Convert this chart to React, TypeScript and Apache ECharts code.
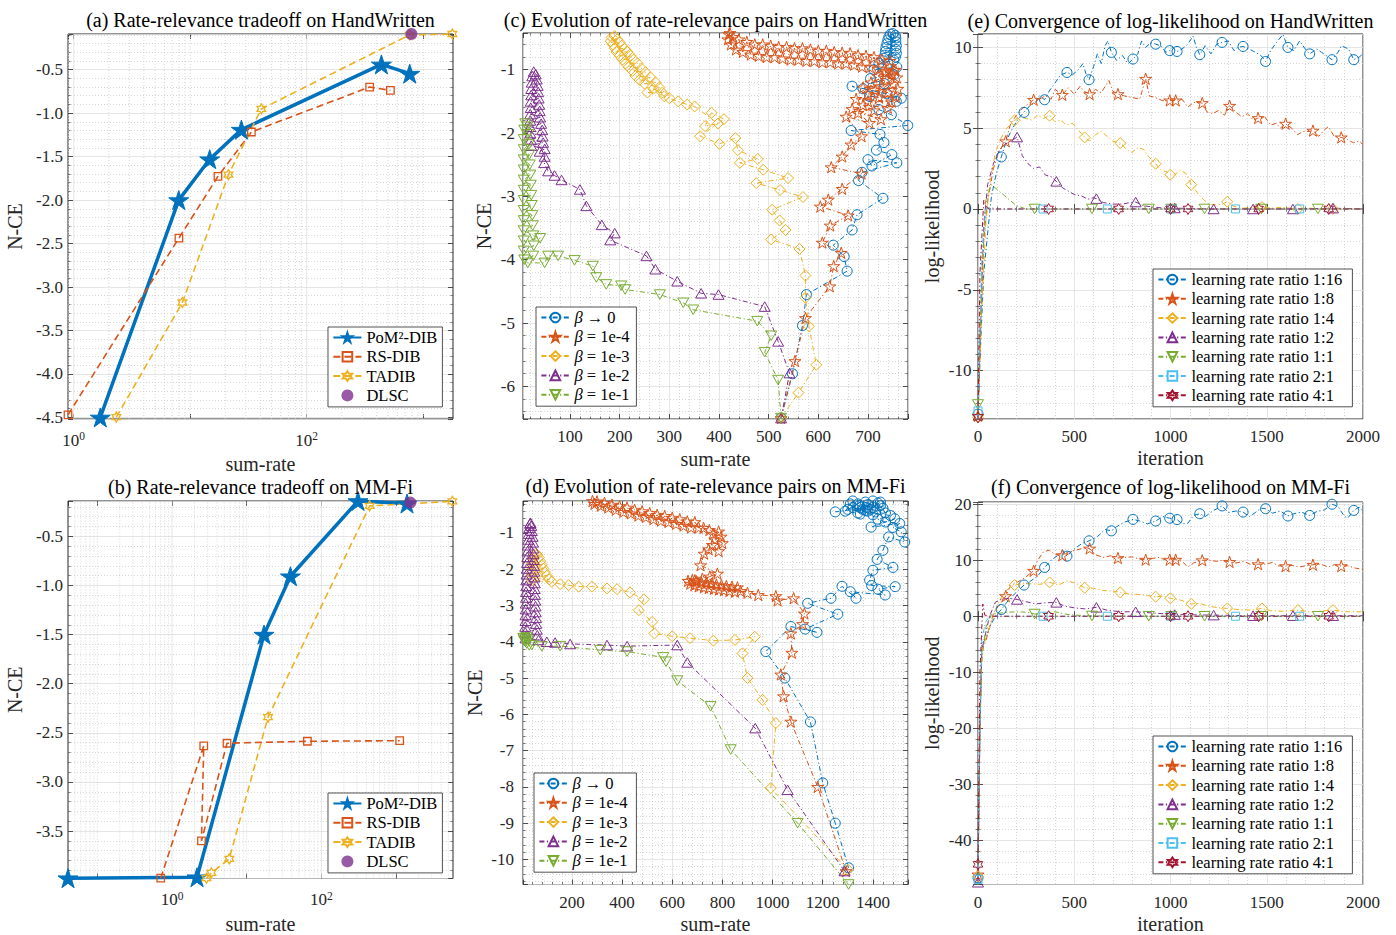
import { useEffect, useRef } from "react";
import * as echarts from "echarts";

const FONT = '"Liberation Serif", "Times New Roman", serif';
const AX = "#262626";
const MAJOR = "#dedede";
const MINOR = "#cdcdcd";
const BLUE = "#0072BD", ORANGE = "#D95319", YELLOW = "#EDB120", PURPLE = "#7E2F8E";
const GREEN = "#77AC30", CYAN = "#4DBEEE", DRED = "#A2142F";

const PENTAGRAM = "path://M50,0L61.2,34.5L97.6,34.5L68.2,55.9L79.4,90.5L50,69.1L20.6,90.5L31.8,55.9L2.4,34.5L38.8,34.5Z";
const HEXAGRAM = "path://M50,0L64.4,25L93.3,25L78.9,50L93.3,75L64.4,75L50,100L35.6,75L6.7,75L21.1,50L6.7,25L35.6,25Z";
const TRI_UP = "path://M50,0L100,86.6L0,86.6Z";
const TRI_DOWN = "path://M0,0L100,0L50,86.6Z";
const DASHDOT = [5, 2.5, 1.2, 2.5];
const DASHED = [7, 4];

// ---------------- (a) HandWritten tradeoff ----------------
const A_POM = [[1.69, -4.5], [7.97, -2.0], [14.7, -1.53], [27.5, -1.19], [438, -0.44], [766, -0.546]];
const A_RS = [[0.893, -4.47], [8.0, -2.437], [17.3, -1.728], [33.5, -1.217], [347, -0.7], [523, -0.738]];
const A_TA = [[2.32, -4.497], [8.57, -3.178], [21.3, -1.708], [40.8, -0.952], [766, -0.1], [1780, -0.09]];
const A_DL = [[792, -0.09]];

// ---------------- (b) MM-Fi tradeoff ----------------
const B_POM = [[0.0405, -3.98], [2.16, -3.97], [17.05, -1.5], [38.5, -0.906], [309, -0.14], [1400, -0.166]];
const B_RS = [[0.706, -3.98], [2.66, -2.633], [2.48, -3.6], [5.45, -2.606], [65, -2.586], [1117, -2.58]];
const B_TA = [[2.89, -3.98], [3.36, -3.926], [5.84, -3.783], [19.3, -2.34], [443, -0.19], [5670, -0.143]];
const B_DL = [[1552, -0.156]];

// ---------------- (c) HandWritten evolution ----------------
const C_B0 = [[525,-6.5],[548,-5.8],[568,-5.04],[576,-4.55],[658,-4.18],[652,-3.95],[630,-3.77],[668,-3.53],[678,-3.29],[730,-3.03],[681,-2.75],[688,-2.62],[758,-2.47],[700,-2.42],[708,-2.52],[748,-2.34],[717,-2.27],[732,-2.15],[724,-2.02],[666,-1.96],[780,-1.88],[747,-1.71],[722,-1.63],[757,-1.5],[767,-1.45],[703,-1.42],[668,-1.26],[738,-1.38],[690,-1.3],[733,-1.22],[705,-1.14],[752,-1.08],[712,-1.0],[758,-0.96],[722,-0.9],[752,-0.85],[732,-0.82],[755,-0.8],[734,-0.77],[757,-0.74],[735,-0.71],[756,-0.68],[736,-0.65],[757,-0.62],[738,-0.59],[756,-0.56],[740,-0.53],[756,-0.5],[742,-0.48],[755,-0.46],[745,-0.44],[750,-0.43]];
const C_B4 = [[525,-6.5],[553,-5.6],[574,-4.92],[623,-4.42],[631,-4.1],[646,-3.89],[608,-3.73],[624,-3.46],[660,-3.3],[604,-3.16],[620,-3.05],[648,-2.88],[687,-2.64],[626,-2.54],[648,-2.37],[666,-2.18],[687,-2.05],[656,-1.74],[703,-1.84],[680,-1.68],[726,-1.78],[668,-1.62],[712,-1.64],[690,-1.56],[740,-1.6],[700,-1.5],[748,-1.5],[676,-1.46],[722,-1.44],[756,-1.42],[700,-1.38],[740,-1.36],[714,-1.32],[760,-1.3],[690,-1.28],[728,-1.26],[750,-1.22],[706,-1.2],[738,-1.16],[758,-1.12],[720,-1.1],[748,-1.06],[735,-1.02],[755,-1.0],[752,-1.0],[744,-0.86],[736,-1.04],[728,-0.84],[720,-0.98],[712,-0.8],[704,-0.96],[696,-0.78],[688,-0.95],[680,-0.77],[672,-0.92],[664,-0.74],[656,-0.9],[648,-0.73],[640,-0.9],[632,-0.72],[624,-0.88],[616,-0.7],[608,-0.88],[600,-0.7],[592,-0.86],[584,-0.68],[576,-0.86],[568,-0.66],[560,-0.84],[552,-0.66],[544,-0.84],[536,-0.64],[528,-0.82],[520,-0.64],[512,-0.8],[504,-0.62],[496,-0.8],[488,-0.6],[480,-0.78],[472,-0.6],[464,-0.76],[456,-0.56],[448,-0.72],[440,-0.52],[434,-0.68],[428,-0.48],[424,-0.6],[420,-0.44],[418,-0.52],[422,-0.42]];
const C_B3 = [[525,-6.5],[560,-6.1],[596,-5.66],[581,-5.05],[574,-4.6],[574,-4.25],[562,-3.83],[505,-3.68],[534,-3.53],[522,-3.38],[507,-3.21],[569,-3.01],[523,-2.9],[475,-2.79],[539,-2.71],[489,-2.58],[442,-2.47],[478,-2.41],[438,-2.27],[433,-2.08],[401,-2.17],[362,-2.05],[410,-1.78],[385,-1.68],[372,-1.89],[398,-1.85],[351,-1.58],[336,-1.55],[318,-1.5],[300,-1.45],[290,-1.42],[268,-1.3],[286,-1.36],[256,-1.36],[280,-1.28],[250,-1.22],[272,-1.2],[240,-1.16],[262,-1.12],[232,-1.1],[252,-1.04],[226,-1.02],[244,-0.98],[218,-0.96],[236,-0.9],[212,-0.9],[228,-0.84],[206,-0.84],[222,-0.78],[200,-0.78],[216,-0.72],[194,-0.72],[210,-0.67],[190,-0.66],[204,-0.62],[186,-0.6],[200,-0.57],[182,-0.55],[195,-0.52],[184,-0.49],[190,-0.47]];
const C_B2 = [[525,-6.5],[542,-5.79],[519,-5.29],[492,-4.74],[399,-4.55],[364,-4.53],[316,-4.34],[272,-4.15],[254,-3.94],[181,-3.69],[190,-3.58],[164,-3.45],[133,-3.15],[120,-2.89],[83,-2.74],[69,-2.67],[56,-2.6],[48,-2.47],[49,-2.37],[39,-2.29],[49,-2.25],[22,-2.2],[46,-2.15],[21,-2.1],[45,-2.05],[20,-2.0],[44,-1.95],[20,-1.9],[42,-1.85],[20,-1.8],[40,-1.75],[20,-1.7],[39,-1.65],[21,-1.6],[38,-1.55],[21,-1.5],[37,-1.45],[22,-1.4],[36,-1.35],[22,-1.3],[35,-1.25],[23,-1.2],[33,-1.15],[24,-1.1],[31,-1.07],[27,-1.03]];
const C_B1 = [[525,-6.5],[519,-5.9],[492,-5.46],[505,-5.2],[477,-4.97],[348,-4.79],[328,-4.68],[281,-4.55],[211,-4.47],[203,-4.41],[173,-4.39],[153,-4.28],[146,-4.1],[109,-4.01],[76,-3.94],[56,-3.94],[49,-4.05],[15,-4.05],[8,-4.0],[26,-3.94],[7,-3.86],[27,-3.78],[7,-3.7],[40,-3.66],[26,-3.62],[7,-3.54],[25,-3.46],[7,-3.38],[24,-3.3],[7,-3.22],[23,-3.14],[7,-3.06],[22,-2.98],[7,-2.9],[21,-2.82],[7,-2.74],[20,-2.66],[7,-2.58],[19,-2.5],[7,-2.42],[18,-2.34],[7,-2.26],[17,-2.18],[7,-2.1],[16,-2.02],[8,-1.95],[14,-1.9],[10,-1.85]];

// ---------------- (d) MM-Fi evolution ----------------
const D_B0 = [[1303,-10.23],[1250,-9.0],[1200,-7.89],[1151,-6.21],[1049,-5.0],[973,-4.27],[1073,-3.58],[1177,-3.74],[1130,-3.65],[1260,-3.24],[1140,-2.94],[1233,-2.8],[1277,-2.47],[1333,-2.8],[1310,-2.62],[1449,-2.71],[1420,-2.55],[1489,-2.48],[1395,-2.45],[1387,-2.3],[1400,-2.03],[1480,-1.95],[1417,-1.73],[1440,-1.48],[1463,-1.11],[1527,-1.25],[1513,-0.97],[1480,-0.85],[1507,-0.74],[1393,-0.84],[1487,-0.61],[1450,-0.7],[1420,-0.62],[1470,-0.52],[1300,-0.35],[1340,-0.2],[1380,-0.4],[1420,-0.18],[1450,-0.45],[1430,-0.25],[1400,-0.5],[1370,-0.15],[1340,-0.45],[1310,-0.2],[1290,-0.4],[1320,-0.12],[1360,-0.35],[1400,-0.12],[1440,-0.32],[1410,-0.42],[1380,-0.22],[1350,-0.48],[1320,-0.3],[1360,-0.1],[1400,-0.3],[1430,-0.15],[1390,-0.35],[1350,-0.3],[1370,-0.38],[1345,-0.25],[1375,-0.3],[1250,-0.42]];
const D_B4 = [[1293,-10.32],[1180,-8.0],[1073,-6.2],[1044,-5.5],[1033,-4.9],[1077,-4.3],[1073,-3.77],[1120,-3.51],[1127,-3.22],[1084,-2.8],[1020,-2.86],[1013,-2.74],[943,-2.71],[900,-2.65],[872,-2.6],[860,-2.5],[850,-2.62],[838,-2.48],[828,-2.6],[816,-2.46],[806,-2.58],[796,-2.44],[786,-2.56],[776,-2.42],[766,-2.54],[756,-2.4],[746,-2.52],[736,-2.38],[726,-2.5],[716,-2.36],[706,-2.47],[696,-2.33],[688,-2.44],[680,-2.3],[672,-2.4],[663,-2.32],[690,-2.3],[720,-2.26],[750,-2.2],[780,-2.12],[713,-1.89],[727,-1.57],[745,-1.45],[760,-1.33],[785,-1.5],[800,-1.28],[770,-1.18],[795,-1.1],[762,-1.02],[785,-0.96],[748,-0.92],[725,-0.86],[705,-0.85],[690,-0.7],[675,-0.85],[660,-0.68],[645,-0.8],[630,-0.62],[615,-0.75],[600,-0.58],[585,-0.7],[570,-0.53],[555,-0.66],[540,-0.5],[525,-0.62],[510,-0.45],[495,-0.56],[480,-0.4],[465,-0.52],[450,-0.36],[435,-0.46],[420,-0.3],[405,-0.42],[390,-0.26],[375,-0.36],[360,-0.22],[345,-0.3],[330,-0.17],[315,-0.25],[300,-0.13],[290,-0.2],[282,-0.12]];
const D_B3 = [[1300,-10.28],[993,-8.03],[1013,-6.24],[960,-5.6],[900,-5.0],[880,-4.32],[929,-3.86],[850,-3.95],[764,-3.97],[671,-3.9],[600,-3.85],[529,-3.77],[520,-3.45],[467,-3.13],[487,-2.83],[431,-2.64],[380,-2.55],[340,-2.53],[280,-2.48],[227,-2.48],[187,-2.44],[153,-2.41],[120,-2.35],[40,-2.32],[110,-2.28],[38,-2.22],[100,-2.18],[38,-2.12],[92,-2.08],[38,-2.02],[86,-1.98],[40,-1.92],[80,-1.88],[42,-1.82],[74,-1.78],[45,-1.72],[68,-1.68],[48,-1.64],[62,-1.6],[55,-1.57]];
const D_B2 = [[1287,-10.32],[1060,-8.08],[931,-6.38],[660,-4.57],[620,-4.09],[420,-4.12],[340,-4.09],[193,-4.06],[133,-4.02],[100,-4.0],[67,-3.95],[15,-3.9],[62,-3.82],[14,-3.74],[60,-3.66],[14,-3.58],[58,-3.5],[15,-3.42],[57,-3.34],[15,-3.26],[56,-3.18],[16,-3.1],[55,-3.02],[16,-2.94],[54,-2.86],[17,-2.78],[53,-2.7],[17,-2.62],[52,-2.54],[18,-2.46],[52,-2.38],[18,-2.3],[51,-2.22],[19,-2.14],[50,-2.06],[20,-1.98],[49,-1.9],[21,-1.82],[48,-1.74],[22,-1.66],[47,-1.58],[23,-1.5],[46,-1.42],[24,-1.34],[45,-1.26],[26,-1.18],[43,-1.1],[28,-1.02],[40,-0.94],[30,-0.86],[38,-0.8],[33,-0.74],[35,-0.72]];
const D_B1 = [[1303,-10.69],[1100,-9.0],[833,-6.97],[753,-5.78],[620,-5.07],[575,-4.55],[564,-4.43],[420,-4.27],[313,-4.23],[153,-4.12],[80,-4.13],[40,-4.09],[20,-4.05],[10,-3.98],[25,-3.95],[8,-3.92],[18,-3.88],[6,-3.9],[15,-4.0],[30,-4.1]];

// ---------------- (e) HandWritten convergence ----------------
const E_R16 = [[0,-12.7],[15,-8],[30,-4],[50,-1.5],[70,0.8],[95,2.2],[121,3.22],[150,4.3],[180,5.0],[210,5.6],[239,5.98],[270,6.4],[300,6.6],[320,7.0],[346,6.76],[370,7.3],[400,7.8],[430,8.3],[462,8.45],[490,8.3],[520,8.6],[545,9.0],[560,8.4],[577,8.0],[600,8.8],[620,9.6],[640,9.0],[660,10.1],[675,10.4],[693,9.69],[720,9.2],[750,9.5],[780,9.0],[805,9.28],[830,9.6],[850,10.4],[870,10.0],[900,10.3],[923,10.2],[950,10.1],[975,9.7],[996,9.8],[1010,10.0],[1034,9.75],[1060,9.9],[1090,10.2],[1117,10.7],[1135,10.0],[1152,9.55],[1180,10.1],[1210,9.6],[1240,10.2],[1268,10.31],[1300,10.4],[1330,9.8],[1350,10.0],[1377,10.06],[1410,9.9],[1440,9.7],[1470,9.5],[1494,9.13],[1520,9.8],[1550,10.3],[1584,10.8],[1610,10.0],[1640,9.8],[1671,10.4],[1700,9.9],[1723,9.6],[1760,9.9],[1784,9.7],[1820,9.4],[1839,9.24],[1870,9.7],[1888,10.1],[1925,9.9],[1952,9.24],[1980,9.4],[2000,9.6]];
const E_R8 = [[0,-12.8],[15,-7],[30,-2],[50,0.5],[80,2.5],[110,3.6],[144,4.19],[170,5.3],[200,5.8],[230,6.2],[260,6.5],[289,6.76],[320,6.8],[350,7.0],[380,6.8],[400,7.4],[438,7.07],[470,7.5],[500,7.1],[530,7.6],[550,7.3],[580,7.11],[610,7.4],[640,7.2],[680,7.95],[700,7.3],[727,7.11],[760,7.0],[800,6.9],[840,6.8],[860,7.6],[871,8.06],[890,7.0],[920,6.9],[960,6.7],[996,6.72],[1027,6.72],[1060,6.8],[1090,6.3],[1120,6.6],[1165,6.56],[1190,6.0],[1220,5.9],[1250,6.1],[1280,5.8],[1307,6.39],[1340,6.0],[1370,5.7],[1400,5.9],[1430,5.5],[1455,5.63],[1490,5.7],[1520,5.2],[1550,5.3],[1570,5.0],[1598,5.28],[1630,5.0],[1660,4.6],[1690,4.8],[1720,4.8],[1740,4.85],[1770,4.5],[1800,4.9],[1820,5.1],[1850,4.5],[1887,4.43],[1920,4.3],[1950,4.1],[1980,4.2],[2000,3.98]];
const E_R4 = [[0,-12.9],[20,-6],[40,-1],[60,1.5],[90,3.5],[120,4.4],[150,5.0],[190,5.49],[220,5.7],[250,5.6],[280,5.5],[310,5.8],[340,5.6],[372,5.77],[400,5.4],[430,5.5],[460,5.2],[490,5.3],[520,4.9],[554,4.43],[580,4.2],[610,4.6],[640,4.8],[670,4.5],[700,4.2],[739,4.08],[770,3.7],[800,3.5],[830,3.8],[860,3.7],[890,3.2],[923,2.8],[950,2.4],[980,2.3],[999,2.12],[1020,2.1],[1050,2.4],[1080,2.2],[1108,1.5],[1140,1.0],[1170,0.6],[1200,0.3],[1240,0.25],[1270,0.3],[1295,0.45],[1330,0.15],[1380,0.05],[1430,0.1],[1475,0.12],[1520,0.05],[1580,0.1],[1620,0.05],[1662,0],[1720,0.05],[1780,0],[1844,0],[1900,0],[2000,0]];
const E_R2 = [[0,-13.2],[15,-6],[30,-1],[50,1.5],[80,2.8],[110,3.6],[140,4.0],[170,4.2],[203,4.45],[230,3.3],[260,2.8],[290,2.5],[320,2.6],[350,2.1],[380,2.0],[407,1.71],[440,1.3],[470,1.1],[500,0.9],[540,0.8],[570,0.6],[600,0.7],[615,0.64],[650,0.4],[700,0.3],[750,0.3],[790,0.4],[819,0.43],[860,0.2],[920,0.1],[980,0.05],[1022,0.06],[1100,0.02],[1224,0],[1429,0],[1636,0],[1844,0.05],[2000,0]];
const E_R1 = [[0,-12.1],[20,-4],[40,0.5],[70,1.5],[100,1.2],[150,0.7],[200,0.2],[250,0],[294,0],[592,0],[887,0],[1004,0],[1177,0],[1472,0],[1766,0],[2000,0]];
const E_R21 = [[0,-12.5],[20,-3],[40,0],[60,0.1],[100,0],[338,0],[672,0],[1000,0],[1338,0],[1671,0],[2000,0]];
const E_R41 = [[0,-12.9],[10,-4],[30,0.55],[45,0.1],[60,0],[367,0],[731,0],[1000,0],[1091,0],[1458,0],[1822,0],[2000,0]];

// ---------------- (f) MM-Fi convergence ----------------
const F_R16 = [[0,-46.7],[10,-20],[20,-5],[40,-4],[60,-2],[90,0],[121,1.2],[150,2.5],[190,4.0],[239,5.57],[270,6.2],[310,7.2],[346,8.71],[380,10.0],[420,11.0],[440,11.8],[462,10.73],[500,12.0],[540,13.0],[577,13.47],[620,14.2],[660,15.5],[693,15.25],[720,16.0],[760,16.8],[805,17.3],[840,17.0],[880,16.5],[923,17.0],[960,17.8],[996,17.5],[1034,17.27],[1060,16.5],[1090,16.6],[1120,18.0],[1152,18.3],[1180,17.8],[1220,18.8],[1268,19.7],[1300,18.5],[1340,18.8],[1377,18.6],[1410,17.8],[1440,18.5],[1470,19.3],[1494,19.2],[1530,18.4],[1570,18.8],[1610,17.9],[1640,18.3],[1680,18.6],[1723,18.0],[1760,18.7],[1800,19.0],[1839,20.0],[1870,19.6],[1900,18.0],[1920,17.5],[1952,18.9],[1980,19.5],[2000,18.7]];
const F_R8 = [[0,-46.1],[10,-20],[20,-6],[40,-4.5],[60,-2],[80,0.5],[110,2.0],[144,3.6],[170,5.5],[200,6.0],[240,6.8],[289,8.12],[310,10.0],[340,11.5],[370,11.8],[400,11.0],[438,10.9],[470,11.5],[510,11.8],[550,12.2],[580,12.1],[610,11.0],[650,10.5],[690,10.8],[727,10.4],[760,10.5],[800,10.6],[840,10.2],[871,10.1],[900,10.3],[940,10.5],[970,10.1],[996,10.1],[1027,10.1],[1060,9.8],[1090,8.8],[1120,9.5],[1165,10.0],[1200,10.0],[1240,9.8],[1270,10.0],[1307,9.7],[1340,9.5],[1380,9.8],[1420,9.2],[1455,9.3],[1490,9.3],[1530,9.6],[1560,9.0],[1598,8.95],[1630,9.1],[1670,8.8],[1700,9.0],[1740,9.2],[1780,9.3],[1820,8.8],[1850,9.2],[1887,8.95],[1920,9.0],[1960,8.6],[2000,8.36]];
const F_R4 = [[0,-46.5],[10,-20],[20,-6],[40,-4],[70,-1],[100,2],[140,4.5],[190,5.57],[230,5.8],[270,5.8],[320,5.7],[372,6.04],[420,5.6],[460,6.3],[500,6.0],[554,5.09],[600,5.0],[650,4.6],[700,4.5],[739,4.26],[780,4.0],[830,3.9],[880,3.7],[923,3.49],[960,3.6],[999,3.2],[1050,2.9],[1108,2.2],[1150,2.3],[1200,1.8],[1250,1.5],[1295,1.4],[1350,1.2],[1420,1.1],[1475,1.4],[1520,1.0],[1580,0.9],[1620,1.0],[1662,1.1],[1720,0.8],[1780,0.9],[1844,1.1],[1900,0.8],[2000,0.8]];
const F_R2 = [[0,-47.5],[10,-20],[20,-6],[40,-3],[60,0],[90,2.5],[120,3.0],[160,3.2],[203,3.0],[250,2.6],[300,2.2],[350,2.4],[407,2.48],[450,1.8],[500,1.5],[560,1.3],[615,1.59],[680,1.0],[750,0.8],[819,0.8],[900,0.6],[1022,0.3],[1224,0.2],[1429,0.1],[1636,0.1],[1844,0.1],[2000,0.1]];
const F_R1 = [[0,-48.2],[10,-20],[20,-8],[40,-2],[70,0.3],[100,0.5],[150,0.7],[200,0.8],[260,0.7],[294,0.4],[350,0.5],[400,0.8],[450,0.4],[500,0.2],[592,0.05],[887,0],[1004,0],[1177,0],[1472,0],[1766,0],[2000,0]];
const F_R21 = [[0,-47],[10,-20],[20,-4],[40,-1],[60,0],[338,0],[672,0],[1000,0],[1338,0],[1671,0],[2000,0]];
const F_R41 = [[0,-44.3],[10,-10],[25,2.2],[35,0.2],[60,0],[367,0],[731,0],[1000,0],[1091,0],[1458,0],[1822,0],[2000,0]];

// marker iterations (shared by (e) and (f))
const MK_R16 = [0,121,239,346,462,577,693,805,923,996,1034,1152,1268,1377,1494,1610,1723,1839,1952];
const MK_R8 = [0,144,289,438,580,727,871,996,1027,1165,1307,1455,1598,1740,1887];
const MK_R4 = [0,190,372,554,739,923,999,1108,1295,1475,1662,1844];
const MK_R2 = [0,203,407,615,819,1022,1224,1429,1636,1844];
const MK_R1 = [0,294,592,887,1004,1177,1472,1766];
const MK_R21 = [0,338,672,1000,1338,1671];
const MK_R41 = [0,367,731,1000,1091,1458,1822];

const TRADE_NAMES = ["PoM²-DIB", "RS-DIB", "TADIB", "DLSC"];
const BETA_NAMES = ["β → 0", "β = 1e-4", "β = 1e-3", "β = 1e-2", "β = 1e-1"];
const LR_NAMES = ["learning rate ratio 1:16", "learning rate ratio 1:8", "learning rate ratio 1:4", "learning rate ratio 1:2", "learning rate ratio 1:1", "learning rate ratio 2:1", "learning rate ratio 4:1"];
const TITLES = [
  "(a) Rate-relevance tradeoff on HandWritten",
  "(b) Rate-relevance tradeoff on MM-Fi",
  "(c) Evolution of rate-relevance pairs on HandWritten",
  "(d) Evolution of rate-relevance pairs on MM-Fi",
  "(e) Convergence of log-likelihood on HandWritten",
  "(f) Convergence of log-likelihood on MM-Fi",
];

// axis extents [min, max] per panel a..f
const EXT_X = [[0.893, 1803], [0.0405, 5780], [5.4, 780.5], [5, 1540], [0, 2000], [0, 2000]];
const EXT_Y = [[-4.518, -0.09], [-3.983, -0.14], [-6.515, -0.42], [-10.69, -0.12], [-13, 10.83], [-47.9, 20.4]];

const GRIDS = [
  { left: 68, top: 34, width: 385, height: 385 },
  { left: 68, top: 501, width: 385, height: 384 },
  { left: 523, top: 33, width: 385, height: 386 },
  { left: 523, top: 501, width: 385, height: 384 },
  { left: 978, top: 34, width: 385, height: 385 },
  { left: 978, top: 502, width: 385, height: 383 },
];
const TITLE_POS = [[260.5, 20], [260.5, 486.5], [715.5, 20], [715.5, 486], [1170.5, 20.5], [1170.5, 486.5]];

function valueAxis(gridIndex: number, isX: boolean, o: any) {
  const ext = isX ? EXT_X[gridIndex] : EXT_Y[gridIndex];
  return {
    type: "value", gridIndex, min: ext[0], max: ext[1],
    position: isX ? "bottom" : "left",
    splitNumber: o.split, interval: o.interval,
    axisLine: { show: false },
    axisTick: { show: true, inside: true, length: 5, lineStyle: { color: AX, width: 0.8 } },
    minorTick: { show: true, splitNumber: 5, length: 2.5, lineStyle: { color: AX, width: 0.6 } },
    splitLine: { show: true, lineStyle: { color: MAJOR, width: 0.8 } },
    minorSplitLine: { show: true, lineStyle: { color: MINOR, width: 0.8, type: [1, 2] } },
    axisLabel: {
      color: AX, fontFamily: FONT, fontSize: 17, margin: o.margin,
      showMinLabel: !!o.showMin, showMaxLabel: !!o.showMax,
      formatter: o.fmt || ((v: number) => String(v)),
    },
    name: o.name, nameLocation: "middle", nameGap: o.gap,
    nameTextStyle: { color: AX, fontFamily: FONT, fontSize: 20 },
  };
}

function mirrorValueAxis(gridIndex: number, isX: boolean, o: any) {
  const ext = isX ? EXT_X[gridIndex] : EXT_Y[gridIndex];
  return {
    type: "value", gridIndex, min: ext[0], max: ext[1],
    position: isX ? "top" : "right",
    splitNumber: o.split, interval: o.interval,
    axisLine: { show: false },
    axisTick: { show: true, inside: true, length: 5, lineStyle: { color: AX, width: 0.8 } },
    minorTick: { show: true, splitNumber: 5, length: 2.5, lineStyle: { color: AX, width: 0.6 } },
    splitLine: { show: false }, minorSplitLine: { show: false },
    axisLabel: { show: false },
  };
}

function logAxis(gridIndex: number, mirror: boolean, gap: number) {
  const ext = EXT_X[gridIndex];
  const ax: any = {
    type: "log", logBase: 10, gridIndex, min: ext[0], max: ext[1],
    position: mirror ? "top" : "bottom",
    axisLine: { show: false },
    axisTick: { show: true, inside: true, length: 5, lineStyle: { color: AX, width: 0.8 } },
    minorTick: { show: false },
    splitLine: { show: false }, minorSplitLine: { show: false },
    axisLabel: { show: false },
  };
  if (!mirror) {
    ax.axisLabel = {
      show: true, color: AX, margin: 11, showMinLabel: false, showMaxLabel: false,
      formatter: (v: number) => (Math.abs(v - 1) < 1e-9 ? "{b|10}{s|0}" : Math.abs(v - 100) < 1e-6 ? "{b|10}{s|2}" : ""),
      rich: {
        b: { fontFamily: FONT, fontSize: 17, color: AX, lineHeight: 20 },
        s: { fontFamily: FONT, fontSize: 11.5, color: AX, verticalAlign: "top", lineHeight: 12 },
      },
    };
    ax.name = "sum-rate";
    ax.nameLocation = "middle";
    ax.nameGap = gap;
    ax.nameTextStyle = { color: AX, fontFamily: FONT, fontSize: 20 };
  }
  return ax;
}

function logGridValues(lo: number, hi: number) {
  const out: number[][] = [];
  for (let k = Math.floor(Math.log10(lo)); k <= Math.ceil(Math.log10(hi)); k++) {
    for (let m = 1; m <= 9; m++) {
      const v = m * Math.pow(10, k);
      if (v > lo && v < hi) out.push([v, m === 1 && (k === 0 || k === 2) ? 1 : 0]);
    }
  }
  return out;
}

function logGridSeries(g: number) {
  const [y0, y1] = EXT_Y[g];
  return {
    type: "custom", xAxisIndex: g, yAxisIndex: g, z: 1, silent: true, clip: true,
    data: logGridValues(EXT_X[g][0], EXT_X[g][1]).map((p) => [p[0], y0, p[1]]),
    renderItem: (_p: any, api: any) => {
      const x = api.value(0);
      const major = api.value(2) === 1;
      const a = api.coord([x, y0]);
      const b = api.coord([x, y1]);
      return {
        type: "line",
        shape: { x1: a[0], y1: a[1], x2: b[0], y2: b[1] },
        style: { stroke: major ? MAJOR : MINOR, lineWidth: 0.8, lineDash: major ? null : [1, 2] },
      };
    },
  };
}

function traj(name: string, g: number, data: any[], color: string, symbol: string, size: number) {
  return {
    type: "line", name, xAxisIndex: g, yAxisIndex: g, data,
    symbol, symbolSize: size, symbolKeepAspect: true, showSymbol: true, showAllSymbol: true,
    lineStyle: { color, width: 1, type: DASHDOT },
    itemStyle: { color: "rgba(255,255,255,0)", borderColor: color, borderWidth: 1 },
    emphasis: { disabled: true }, z: 2,
  };
}

function conv(name: string, g: number, data: number[][], mk: number[], color: string, symbol: string, size: number) {
  const d = data.map((p) => (mk.indexOf(p[0]) >= 0 ? p : { value: p, symbol: "none" }));
  return traj(name, g, d, color, symbol, size);
}

function tradeSeries(g: number, pom: number[][], rs: number[][], ta: number[][], dl: number[][]) {
  return [
    {
      type: "line", name: TRADE_NAMES[0], xAxisIndex: g, yAxisIndex: g, data: pom,
      symbol: PENTAGRAM, symbolSize: 20, symbolKeepAspect: true,
      lineStyle: { color: BLUE, width: 3.5, type: "solid" },
      itemStyle: { color: BLUE, borderColor: BLUE, borderWidth: 1 }, emphasis: { disabled: true }, z: 3,
    },
    {
      type: "line", name: TRADE_NAMES[1], xAxisIndex: g, yAxisIndex: g, data: rs,
      symbol: "rect", symbolSize: 7.5, symbolKeepAspect: true,
      lineStyle: { color: ORANGE, width: 1.6, type: DASHED },
      itemStyle: { color: "rgba(255,255,255,0)", borderColor: ORANGE, borderWidth: 1.3 }, emphasis: { disabled: true }, z: 3,
    },
    {
      type: "line", name: TRADE_NAMES[2], xAxisIndex: g, yAxisIndex: g, data: ta,
      symbol: HEXAGRAM, symbolSize: 10, symbolKeepAspect: true,
      lineStyle: { color: YELLOW, width: 1.6, type: DASHED },
      itemStyle: { color: "rgba(255,255,255,0)", borderColor: YELLOW, borderWidth: 1.3 }, emphasis: { disabled: true }, z: 3,
    },
    {
      type: "scatter", name: TRADE_NAMES[3], xAxisIndex: g, yAxisIndex: g, data: dl,
      symbol: "circle", symbolSize: 12, itemStyle: { color: PURPLE }, emphasis: { disabled: true }, z: 4,
    },
  ];
}

function legendAt(names: string[], left: number, top: number, textW: number, beta: boolean) {
  return {
    show: true, orient: "vertical", left, top, data: names,
    itemWidth: 28, itemHeight: 12, itemGap: 2.3, padding: [2, 4, 3, 4.4],
    backgroundColor: "#fff", borderColor: AX, borderWidth: 0.8, selectedMode: false, z: 10,
    textStyle: {
      fontFamily: FONT, fontSize: 16.5, color: "#000", lineHeight: 15, width: textW,
      rich: { i: { fontFamily: FONT, fontSize: 16.5, fontStyle: "italic", color: "#000" } },
    },
    formatter: beta ? (n: string) => n.replace("β", "{i|β}") : undefined,
  };
}

function buildOption() {
  const f1 = (v: number) => v.toFixed(1);
  const xAxis = [
    logAxis(0, false, 35),
    logAxis(1, false, 35.5),
    valueAxis(2, true, { split: 6, margin: 9, name: "sum-rate", gap: 29.5 }),
    valueAxis(3, true, { split: 8, margin: 9, name: "sum-rate", gap: 29.5 }),
    valueAxis(4, true, { interval: 500, margin: 9, showMin: true, showMax: true, name: "iteration", gap: 29 }),
    valueAxis(5, true, { interval: 500, margin: 9, showMin: true, showMax: true, name: "iteration", gap: 29.5 }),
    logAxis(0, true, 0),
    logAxis(1, true, 0),
    mirrorValueAxis(2, true, { split: 6 }),
    mirrorValueAxis(3, true, { split: 8 }),
    mirrorValueAxis(4, true, { interval: 500 }),
    mirrorValueAxis(5, true, { interval: 500 }),
  ];
  const yAxis = [
    valueAxis(0, false, { split: 9, margin: 5, fmt: f1, name: "N-CE", gap: 43 }),
    valueAxis(1, false, { split: 8, margin: 5, fmt: f1, name: "N-CE", gap: 43 }),
    valueAxis(2, false, { split: 5, margin: 8, name: "N-CE", gap: 29 }),
    valueAxis(3, false, { split: 9, margin: 9, name: "N-CE", gap: 38 }),
    valueAxis(4, false, { split: 5, margin: 6.5, name: "log-likelihood", gap: 36 }),
    valueAxis(5, false, { split: 6, margin: 6.5, name: "log-likelihood", gap: 36 }),
    mirrorValueAxis(0, false, { split: 9 }),
    mirrorValueAxis(1, false, { split: 8 }),
    mirrorValueAxis(2, false, { split: 5 }),
    mirrorValueAxis(3, false, { split: 9 }),
    mirrorValueAxis(4, false, { split: 5 }),
    mirrorValueAxis(5, false, { split: 6 }),
  ];

  const series: any[] = [
    logGridSeries(0),
    logGridSeries(1),
    ...tradeSeries(0, A_POM, A_RS, A_TA, A_DL),
    ...tradeSeries(1, B_POM, B_RS, B_TA, B_DL),
    traj(BETA_NAMES[0], 2, C_B0, BLUE, "circle", 10),
    traj(BETA_NAMES[1], 2, C_B4, ORANGE, PENTAGRAM, 12),
    traj(BETA_NAMES[2], 2, C_B3, YELLOW, "diamond", 11),
    traj(BETA_NAMES[3], 2, C_B2, PURPLE, TRI_UP, 11),
    traj(BETA_NAMES[4], 2, C_B1, GREEN, TRI_DOWN, 11),
    traj(BETA_NAMES[0], 3, D_B0, BLUE, "circle", 10),
    traj(BETA_NAMES[1], 3, D_B4, ORANGE, PENTAGRAM, 12),
    traj(BETA_NAMES[2], 3, D_B3, YELLOW, "diamond", 11),
    traj(BETA_NAMES[3], 3, D_B2, PURPLE, TRI_UP, 11),
    traj(BETA_NAMES[4], 3, D_B1, GREEN, TRI_DOWN, 11),
    conv(LR_NAMES[0], 4, E_R16, MK_R16, BLUE, "circle", 10),
    conv(LR_NAMES[1], 4, E_R8, MK_R8, ORANGE, PENTAGRAM, 12),
    conv(LR_NAMES[2], 4, E_R4, MK_R4, YELLOW, "diamond", 11),
    conv(LR_NAMES[3], 4, E_R2, MK_R2, PURPLE, TRI_UP, 11),
    conv(LR_NAMES[4], 4, E_R1, MK_R1, GREEN, TRI_DOWN, 11),
    conv(LR_NAMES[5], 4, E_R21, MK_R21, CYAN, "rect", 8),
    conv(LR_NAMES[6], 4, E_R41, MK_R41, DRED, HEXAGRAM, 11),
    conv(LR_NAMES[0], 5, F_R16, MK_R16, BLUE, "circle", 10),
    conv(LR_NAMES[1], 5, F_R8, MK_R8, ORANGE, PENTAGRAM, 12),
    conv(LR_NAMES[2], 5, F_R4, MK_R4, YELLOW, "diamond", 11),
    conv(LR_NAMES[3], 5, F_R2, MK_R2, PURPLE, TRI_UP, 11),
    conv(LR_NAMES[4], 5, F_R1, MK_R1, GREEN, TRI_DOWN, 11),
    conv(LR_NAMES[5], 5, F_R21, MK_R21, CYAN, "rect", 8),
    conv(LR_NAMES[6], 5, F_R41, MK_R41, DRED, HEXAGRAM, 11),
  ];

  return {
    animation: false,
    backgroundColor: "#fff",
    grid: GRIDS.map((g) => ({ ...g, show: true, borderColor: AX, borderWidth: 1, backgroundColor: "#fff", containLabel: false })),
    xAxis,
    yAxis,
    legend: [
      legendAt(TRADE_NAMES, 328, 327, 72, false),
      legendAt(TRADE_NAMES, 328, 793, 72, false),
      legendAt(BETA_NAMES, 536, 307, 58, true),
      legendAt(BETA_NAMES, 534, 773, 60, true),
      legendAt(LR_NAMES, 1153, 269, 157, false),
      legendAt(LR_NAMES, 1153, 736, 157, false),
    ],
    graphic: TITLES.map((t, i) => ({
      type: "text", x: TITLE_POS[i][0], y: TITLE_POS[i][1], silent: true, z: 20,
      style: { text: t, font: `20px ${FONT}`, fill: "#000", textAlign: "center", textVerticalAlign: "middle" },
    })),
    series,
  };
}

export default function App() {
  const ref = useRef<HTMLDivElement>(null);
  useEffect(() => {
    const chart = echarts.init(ref.current as HTMLDivElement, undefined, { renderer: "svg" });
    chart.setOption(buildOption() as any);
    return () => chart.dispose();
  }, []);
  return <div ref={ref} style={{ position: "fixed", left: 0, top: 0, width: 1396, height: 935, background: "#fff" }} />;
}
